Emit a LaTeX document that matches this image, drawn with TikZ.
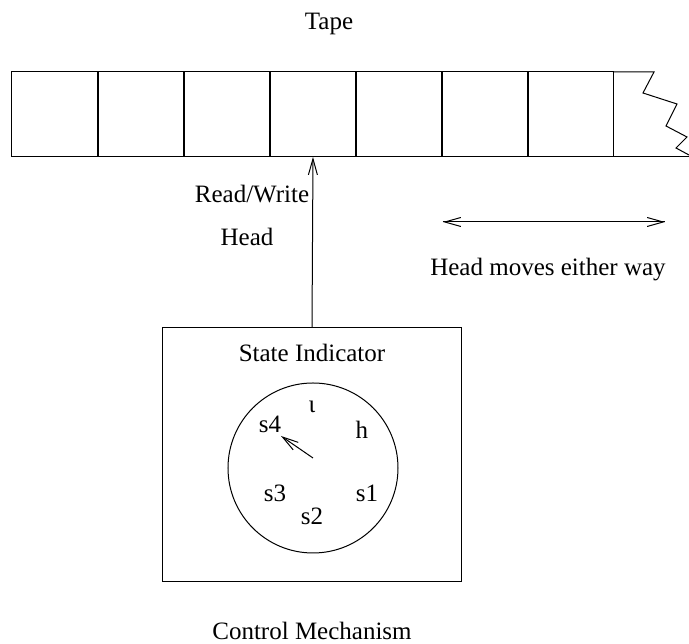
\documentclass[tikz,border=0pt]{standalone}
\usepackage{fontspec}
\setmainfont{Liberation Serif}
\usetikzlibrary{arrows.meta}
\begin{document}
\begin{tikzpicture}[x=0.4pt,y=-0.4pt,line width=0.4pt,
  font=\fontsize{10}{12}\selectfont,
  cell/.style={draw,minimum width=34.4pt,minimum height=34pt,inner sep=0pt,outer sep=0pt},
  lbl/.style={inner sep=0pt,anchor=center},
  tip/.style={-{Straight Barb[length=6.4pt,width=3.6pt]}}]
\useasboundingbox (0,0) rectangle (689,644);

% tape cells
\foreach \i in {0,...,6}
  \node[cell] (c\i) at ({12+86*\i+43},114.5) {};
% torn last cell
\coordinate (tA) at (613,72);
\coordinate (tB) at (613,157);
\draw (tA) -- (654,72) -- (643,93) -- (677,104) -- (666,126) -- (687,137) -- (676,148) -- (689,155);
\draw (tB) -- (689,157);
\node[lbl] (tape) at (329,24) {Tape};

% control box and dial
\node[draw,minimum width=119.2pt,minimum height=101.6pt,inner sep=0pt] (ctrl) at (312,455) {};
\node[lbl] (si) at (312,353) {State Indicator};
\node[draw,circle,minimum size=68pt,inner sep=0pt] (dial) at (313,468) {};
\node[lbl] (iota) at (312,407) {ι};
\node[lbl] (h) at (362,430) {h};
\node[lbl] (s4) at (270,424) {s4};
\node[lbl] (s3) at (275,493) {s3};
\node[lbl] (s1) at (367,493) {s1};
\node[lbl] (s2) at (312,516) {s2};
\coordinate (hub) at (313,458);
\draw[tip] (hub) -- (281,436);
\node[lbl] (cm) at (312,631) {Control Mechanism};

% read/write head
\draw[tip] (ctrl.north) -- (c3.south);
\node[lbl] (rw) at (252,194) {Read/Write};
\node[lbl] (hd) at (247,237) {Head};

% head movement
\coordinate (mL) at (443,222);
\coordinate (mR) at (665,222);
\draw[tip] (mL) -- (mR);
\draw[tip] (mR) -- (mL);
\node[lbl] (mv) at (548,270) {Head moves either way};
\end{tikzpicture}
\end{document}
